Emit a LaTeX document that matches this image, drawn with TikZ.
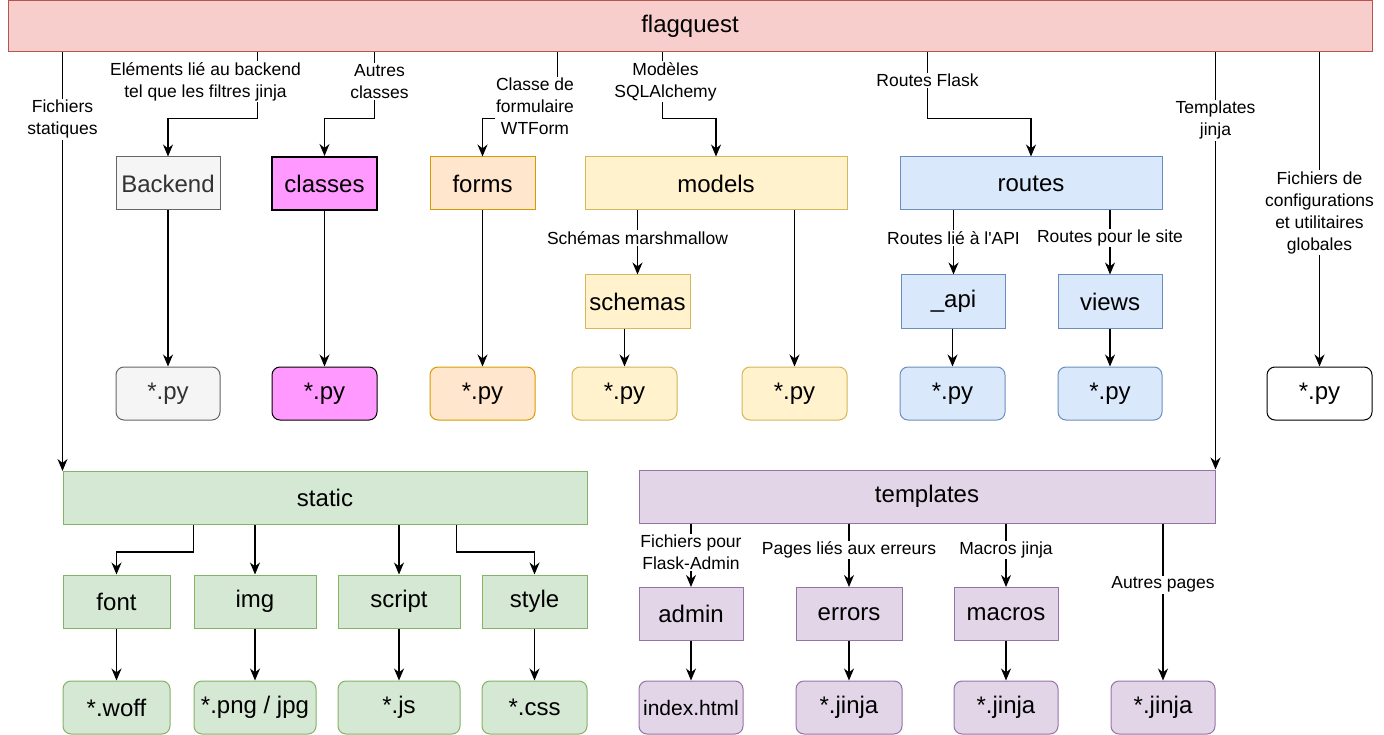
\documentclass[tikz,border=0pt]{standalone}
\usepackage{fontspec}
\setmainfont{Liberation Sans}
\usepackage{tikz}
\usetikzlibrary{arrows.meta,shapes}
\usetikzlibrary{positioning}
\definecolor{redfill}{HTML}{F8CECC}
\definecolor{redline}{HTML}{B85450}
\definecolor{grayfill}{HTML}{F5F5F5}
\definecolor{grayline}{HTML}{666666}
\definecolor{graytext}{HTML}{333333}
\definecolor{pinkfill}{HTML}{FF99FF}
\definecolor{orangefill}{HTML}{FFE6CC}
\definecolor{orangeline}{HTML}{D79B00}
\definecolor{yellowfill}{HTML}{FFF2CC}
\definecolor{yellowline}{HTML}{D6B656}
\definecolor{bluefill}{HTML}{DAE8FC}
\definecolor{blueline}{HTML}{6C8EBF}
\definecolor{greenfill}{HTML}{D5E8D4}
\definecolor{greenline}{HTML}{82B366}
\definecolor{purplefill}{HTML}{E1D5E7}
\definecolor{purpleline}{HTML}{9673A6}
\tikzstyle{folder} = [draw, rectangle, line width=1pt, minimum width=105pt,
    minimum height=53pt, inner sep=0pt, font=\fontsize{24}{28}\selectfont]
\tikzstyle{file} = [folder, rounded corners=8pt]
\tikzstyle{lbl} = [fill=white, align=center, inner sep=1pt, anchor=center,
    font=\fontsize{17.5}{22}\selectfont]
\tikzstyle{arr} = [-{Stealth[length=12pt,width=10pt]}, line width=1.1pt]

\begin{document}
\begin{tikzpicture}[x=1pt, y=1pt, node distance = 210pt]
  \useasboundingbox (0,0) rectangle (1384,-735);
  \node [folder, fill=redfill, draw=redline, minimum width=1364pt, minimum height=51pt] (d11) at (690,-26.5) {flagquest};

  \node [folder, fill=grayfill, draw=grayline, text=graytext, minimum width=104pt] (d21) at (168,-183.5) {Backend};
  \node [folder, fill=pinkfill, line width=2pt, right of=d21, node distance=156.5pt] (d22) {classes};
  \node [folder, fill=orangefill, draw=orangeline, right of=d22, node distance=158pt] (d23) {forms};
  \node [folder, fill=yellowfill, draw=yellowline, minimum width=262pt, right of=d23, node distance=233.5pt] (d24) {models};
  \node [folder, fill=bluefill, draw=blueline, minimum width=262pt, right of=d24, node distance=315pt] (d25) {routes};
  \node [folder, fill=yellowfill, draw=yellowline, below of=d24, node distance=118pt, xshift=-78.5pt] (d31) {schemas};
  \node [folder, fill=bluefill, draw=blueline, minimum width=104pt, below of=d25, node distance=118pt, xshift=-77.5pt] (d32) {\_api};
  \node [folder, fill=bluefill, draw=blueline, minimum width=104pt, right of=d32, node distance=156.5pt] (d33) {views};

  \node [file, fill=grayfill, draw=grayline, text=graytext, minimum width=104pt, below of=d21] (f41) {*.py};
  \node [file, fill=pinkfill, below of=d22] (f42) {*.py};
  \node [file, fill=orangefill, draw=orangeline, below of=d23] (f43) {*.py};
  \node [file, fill=yellowfill, draw=yellowline, below of=d31, node distance=92pt, xshift=-13pt] (f44) {*.py};
  \node [file, fill=yellowfill, draw=yellowline, below of=d24, xshift=78.5pt] (f45) {*.py};
  \node [file, fill=bluefill, draw=blueline, below of=d32, node distance=92pt, xshift=-1pt] (f46) {*.py};
  \node [file, fill=bluefill, draw=blueline, minimum width=104pt, below of=d33, node distance=92pt] (f47) {*.py};
  \node [file, fill=white, draw=black, right of=f47, node distance=209.5pt] (f48) {*.py};

  \node [folder, fill=greenfill, draw=greenline, minimum width=524pt] (d51) at (325,-498) {static};
  \node [folder, fill=purplefill, draw=purpleline, minimum width=576pt, right of=d51, node distance=602pt, yshift=1.5pt] (d52) {templates};

  \node [folder, fill=greenfill, draw=greenline, minimum width=107pt] (d61) at (116.5,-601.5) {font};
  \node [folder, fill=greenfill, draw=greenline, minimum width=122pt, right of=d61, node distance=138.5pt] (d62) {img};
  \node [folder, fill=greenfill, draw=greenline, minimum width=122pt, right of=d62, node distance=144pt] (d63) {script};
  \node [folder, fill=greenfill, draw=greenline, right of=d63, node distance=135.5pt] (d64) {style};
  \node [folder, fill=purplefill, draw=purpleline, minimum width=104pt] (d65) at (691,-614) {admin};
  \node [folder, fill=purplefill, draw=purpleline, minimum width=106pt, right of=d65, node distance=158pt] (d66) {errors};
  \node [folder, fill=purplefill, draw=purpleline, minimum width=104pt, right of=d66, node distance=157pt] (d67) {macros};

  \node [file, fill=greenfill, draw=greenline, minimum width=107pt, below of=d61, node distance=106pt] (f71) {*.woff};
  \node [file, fill=greenfill, draw=greenline, minimum width=122pt, below of=d62, node distance=106pt] (f72) {*.png / jpg};
  \node [file, fill=greenfill, draw=greenline, minimum width=122pt, below of=d63, node distance=106pt] (f73) {*.js};
  \node [file, fill=greenfill, draw=greenline, below of=d64, node distance=106pt] (f74) {*.css};
  \node [file, fill=purplefill, draw=purpleline, minimum width=104pt, font=\fontsize{21}{25}\selectfont, below of=d65, node distance=93.5pt] (f75) {index.html};
  \node [file, fill=purplefill, draw=purpleline, minimum width=106pt, below of=d66, node distance=93.5pt] (f76) {*.jinja};
  \node [file, fill=purplefill, draw=purpleline, minimum width=104pt, below of=d67, node distance=93.5pt] (f77) {*.jinja};
  \node [file, fill=purplefill, draw=purpleline, minimum width=104pt, right of=f77, node distance=157pt] (f78) {*.jinja};

  \draw [arr] (d11.south -| d51.north west) -- node[lbl, pos=0.16] {Fichiers\\statiques} (d51.north west);
  \draw [arr] ([xshift=250pt]d11.south west) -- ++(0,-66) node[lbl, pos=0.44, xshift=-52pt] {Eléments lié au backend\\tel que les filtres jinja} -| (d21.north);
  \draw [arr] ([xshift=367pt]d11.south west) -- ++(0,-66) node[lbl, pos=0.44, xshift=5pt] {Autres\\classes} -| (d22.north);
  \draw [arr] ([xshift=550pt]d11.south west) -- ++(0,-66) -| (d23.north);
  \node [lbl] (l23) at (535,-106) {Classe de\\formulaire\\WTForm};
  \draw [arr] ([xshift=655pt]d11.south west) -- ++(0,-66) node[lbl, pos=0.44, xshift=3pt] {Modèles\\SQLAlchemy} -| (d24.north);
  \draw [arr] ([xshift=920pt]d11.south west) -- ++(0,-66) node[lbl, pos=0.42] {Routes Flask} -| (d25.north);
  \draw [arr] (d11.south -| d52.north east) -- node[lbl, pos=0.163] {Templates\\jinja} (d52.north east);
  \draw [arr] (d11.south -| f48.north) -- node[lbl, pos=0.51] {Fichiers de\\configurations\\et utilitaires\\globales} (f48.north);

  \draw [arr] (d21) -- (f41);
  \draw [arr] (d22) -- (f42);
  \draw [arr] (d23) -- (f43);
  \draw [arr] (d24.south -| d31.north) -- node[lbl, pos=0.43] {Schémas marshmallow} (d31.north);
  \draw [arr] (d24.south -| f45.north) -- (f45.north);
  \draw [arr] (d31.south -| f44.north) -- (f44.north);
  \draw [arr] (d25.south -| d32.north) -- node[lbl, pos=0.43] {Routes lié à l\textquotesingle API} (d32.north);
  \draw [arr] (d25.south -| d33.north) -- node[lbl, pos=0.43] {Routes pour le site} (d33.north);
  \draw [arr] (d32.south -| f46.north) -- (f46.north);
  \draw [arr] (d33) -- (f47);

  \draw [arr] ([xshift=131pt]d51.south west) -- ++(0,-27) -| (d61.north);
  \draw [arr] (d51.south -| d62.north) -- (d62.north);
  \draw [arr] (d51.south -| d63.north) -- (d63.north);
  \draw [arr] ([xshift=394pt]d51.south west) -- ++(0,-27) -| (d64.north);
  \draw [arr] (d61) -- (f71);
  \draw [arr] (d62) -- (f72);
  \draw [arr] (d63) -- (f73);
  \draw [arr] (d64) -- (f74);

  \draw [arr] (d52.south -| d65.north) -- node[lbl, pos=0.46] {Fichiers pour\\Flask-Admin} (d65.north);
  \draw [arr] (d52.south -| d66.north) -- node[lbl, pos=0.42] {Pages liés aux erreurs} (d66.north);
  \draw [arr] (d52.south -| d67.north) -- node[lbl, pos=0.42] {Macros jinja} (d67.north);
  \draw [arr] (d52.south -| f78.north) -- node[lbl, pos=0.39] {Autres pages} (f78.north);
  \draw [arr] (d65) -- (f75);
  \draw [arr] (d66) -- (f76);
  \draw [arr] (d67) -- (f77);
\end{tikzpicture}
\end{document}
